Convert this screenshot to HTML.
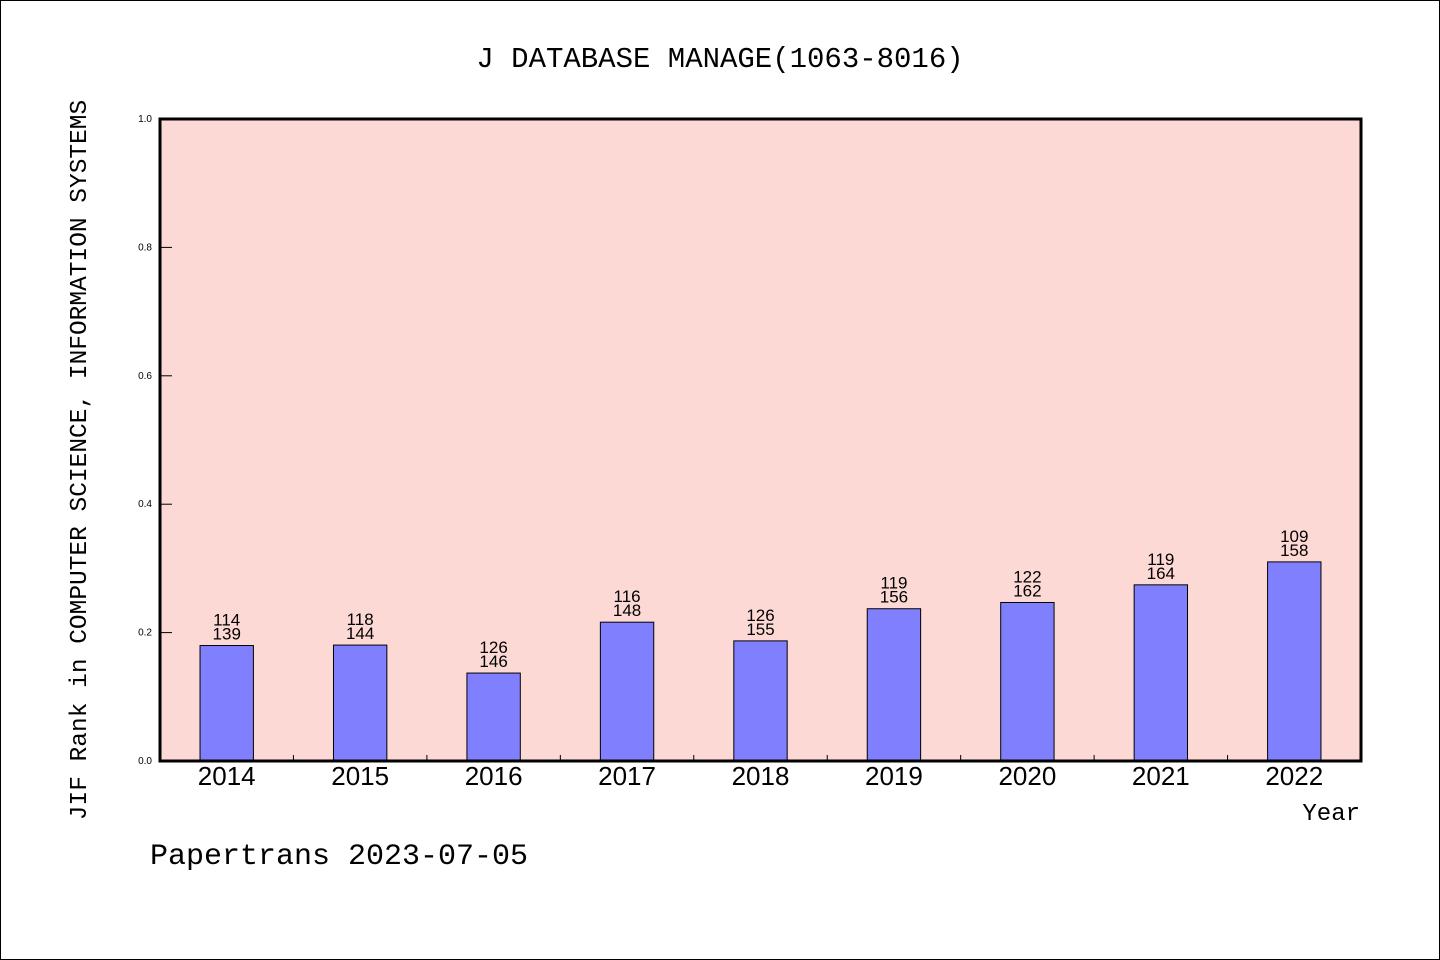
<!DOCTYPE html>
<html><head><meta charset="utf-8"><style>
html,body{margin:0;padding:0;background:#fff;}
svg{display:block;}
</style></head><body>
<svg id="chart" width="1440" height="960" xmlns="http://www.w3.org/2000/svg">
<rect x="0.5" y="0.5" width="1439" height="959" fill="#fff" stroke="#000"/>
<text x="720" y="67" text-anchor="middle" font-family="Liberation Mono, monospace" font-size="29">J DATABASE MANAGE(1063-8016)</text>
<rect x="160" y="119" width="1201" height="642" fill="#fdd9d6"/>
<g id="yaxis"></g>
<g id="xaxis"></g>
<g id="bars"></g>
<rect x="160" y="119" width="1201" height="642" fill="none" stroke="#000" stroke-width="3"/>
<text transform="translate(86,460) rotate(-90)" text-anchor="middle" font-family="Liberation Mono, monospace" font-size="24.5">JIF Rank in COMPUTER SCIENCE, INFORMATION SYSTEMS</text>
<text x="1360" y="820" text-anchor="end" font-family="Liberation Mono, monospace" font-size="24">Year</text>
<text x="150" y="864" font-family="Liberation Mono, monospace" font-size="30">Papertrans 2023-07-05</text>
</svg>
<script>
const years = ['2014','2015','2016','2017','2018','2019','2020','2021','2022'];
const ranks = [114,118,126,116,126,119,122,119,109];
const totals = [139,144,146,148,155,156,162,164,158];
const yTicks = ['0.0','0.2','0.4','0.6','0.8','1.0'];

const NS='http://www.w3.org/2000/svg';
const X0=160,X1=1361,Y0=761,Y1=119;
const slot=(X1-X0)/years.length;
function xc(i){return X0+slot*(i+0.5);}
function y(v){return Y0-(Y0-Y1)*v;}
function mk(tag,attrs,parent){const e=document.createElementNS(NS,tag);for(const k in attrs)e.setAttribute(k,attrs[k]);parent.appendChild(e);return e;}

const ya=document.getElementById('yaxis');
yTicks.forEach(t=>{
  const v=parseFloat(t);
  const l=mk('line',{x1:X0,x2:X0+12,y1:y(v),y2:y(v),stroke:'#000','stroke-width':1},ya);
  
  
  const tx=mk('text',{x:152,y:y(v)+3,'text-anchor':'end','font-family':'Liberation Sans, sans-serif','font-size':10},ya);
  tx.textContent=t;
  
  
});

const xa=document.getElementById('xaxis');
years.forEach((yr,i)=>{
  if(i>0){
    const l=mk('line',{x1:X0+slot*i,x2:X0+slot*i,y1:Y0,y2:Y0-6,stroke:'#000','stroke-width':1},xa);
    
    
  }
  const tx=mk('text',{x:xc(i),y:785,'text-anchor':'middle','font-family':'Liberation Sans, sans-serif','font-size':26},xa);
  tx.textContent=yr;
  
  
});

const bg=document.getElementById('bars');
const bw=slot*0.4;
years.forEach((yr,i)=>{
  const v=1-ranks[i]/totals[i];
  const r=mk('rect',{x:xc(i)-bw/2,y:y(v),width:bw,height:Y0-y(v),fill:'#8080ff',stroke:'#000','stroke-width':1},bg);
  
  
  const t1=mk('text',{x:xc(i),y:y(v)-20,'text-anchor':'middle','font-family':'Liberation Sans, sans-serif','font-size':17},bg);
  t1.textContent=ranks[i];
  
  
  const t2=mk('text',{x:xc(i),y:y(v)-6,'text-anchor':'middle','font-family':'Liberation Sans, sans-serif','font-size':17},bg);
  t2.textContent=totals[i];
  
  
});
</script>
</body></html>
